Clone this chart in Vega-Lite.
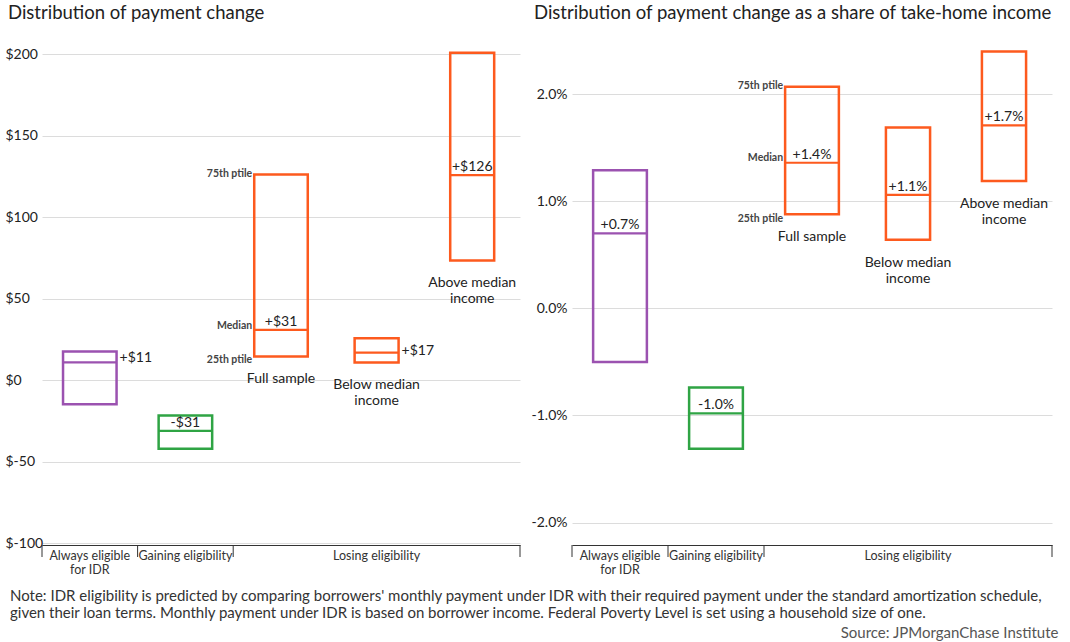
{
  "$schema": "https://vega.github.io/schema/vega-lite/v6.json",
  "padding": {"left": 5, "top": 3, "right": 5, "bottom": 2},
  "config": {
    "font": "Lato",
    "view": {"stroke": null},
    "axis": {"labelFont": "Lato", "titleFont": "Lato"},
    "text": {"font": "Lato"}
  },
  "datasets": {
    "pay": [
      {"cat": "Always eligible for IDR", "group": "Always", "p25": -14.7, "median": 11, "p75": 17.8, "label": "+$11", "boxLabel": null},
      {"cat": "Gaining eligibility", "group": "Gaining", "p25": -42, "median": -31, "p75": -21.5, "label": "-$31", "boxLabel": null},
      {"cat": "Full sample", "group": "Losing", "p25": 14.7, "median": 31, "p75": 126.4, "label": "+$31", "boxLabel": ["Full sample"]},
      {"cat": "Below median income", "group": "Losing", "p25": 11, "median": 17, "p75": 25.8, "label": "+$17", "boxLabel": ["Below median", "income"]},
      {"cat": "Above median income", "group": "Losing", "p25": 73.6, "median": 126, "p75": 201, "label": "+$126", "boxLabel": ["Above median", "income"]}
    ],
    "share": [
      {"cat": "Always eligible for IDR", "group": "Always", "p25": -0.5, "median": 0.7, "p75": 1.29, "label": "+0.7%", "boxLabel": null},
      {"cat": "Gaining eligibility", "group": "Gaining", "p25": -1.31, "median": -0.98, "p75": -0.74, "label": "-1.0%", "boxLabel": null},
      {"cat": "Full sample", "group": "Losing", "p25": 0.88, "median": 1.36, "p75": 2.07, "label": "+1.4%", "boxLabel": ["Full sample"]},
      {"cat": "Below median income", "group": "Losing", "p25": 0.64, "median": 1.06, "p75": 1.69, "label": "+1.1%", "boxLabel": ["Below median", "income"]},
      {"cat": "Above median income", "group": "Losing", "p25": 1.19, "median": 1.71, "p75": 2.4, "label": "+1.7%", "boxLabel": ["Above median", "income"]}
    ]
  },
  "title": {"text": "Source: JPMorganChase Institute", "orient": "bottom", "anchor": "end", "fontSize": 15, "fontWeight": "normal", "color": "#555", "offset": 5, "frame": "bounds", "dx": 6},
  "vconcat": [
    {
      "title": {
        "text": ["Note: IDR eligibility is predicted by comparing borrowers' monthly payment under IDR with their required payment under the standard amortization schedule,", "given their loan terms. Monthly payment under IDR is based on borrower income. Federal Poverty Level is set using a household size of one."],
        "orient": "bottom", "anchor": "start", "frame": "bounds", "fontSize": 15, "fontWeight": "normal", "color": "#333", "offset": 13, "lineHeight": 17.5, "dx": 5
      },
      "spacing": 10,
      "hconcat": [
        {
          "width": 478,
          "height": 515,
          "title": {"text": "Distribution of payment change", "anchor": "start", "frame": "bounds", "fontSize": 18.5, "fontWeight": "normal", "color": "#222", "offset": 8, "dx": 3},
          "data": {"name": "pay"},
          "encoding": {
            "x": {
              "field": "cat", "type": "nominal", "sort": null, "title": null,
              "scale": {"domain": ["Always eligible for IDR", "Gaining eligibility", "Full sample", "Below median income", "Above median income"], "paddingInner": 0, "paddingOuter": 0},
              "axis": {
                "labelExpr": "datum.value == 'Always eligible for IDR' ? ['Always eligible', 'for IDR'] : datum.value == 'Gaining eligibility' ? 'Gaining eligibility' : datum.value == 'Below median income' ? 'Losing eligibility' : ''",
                "labelAngle": 0, "domain": true, "domainColor": "#333", "ticks": false, "labelPadding": 4,
                "labelFontSize": 12.5, "labelColor": "#333", "labelBaseline": "top", "labelLineHeight": 14, "grid": false
              }
            }
          },
          "layer": [
            {
              "transform": [{"filter": {"field": "cat", "oneOf": ["Always eligible for IDR", "Gaining eligibility", "Full sample"]}}],
              "mark": {"type": "bar", "filled": false, "strokeWidth": 2.5, "width": {"band": 0.56}},
              "encoding": {
                "y": {"field": "p75", "type": "quantitative", "title": null,
                  "scale": {"domain": [-101, 215], "nice": false, "zero": false},
                  "axis": {"values": [-100, -50, 0, 50, 100, 150, 200], "labelExpr": "'$' + datum.value", "labelAlign": "left", "labelPadding": 37, "grid": true, "gridColor": "#dcdcdc", "domain": false, "ticks": false, "labelFontSize": 14, "labelColor": "#222"}},
                "y2": {"field": "p25"},
                "color": {"field": "group", "type": "nominal", "scale": {"domain": ["Always", "Gaining", "Losing"], "range": ["#9b52b0", "#2fa444", "#fd5a1e"]}, "legend": null}
              }
            },
            {
              "transform": [{"filter": {"field": "cat", "oneOf": ["Below median income", "Above median income"]}}],
              "mark": {"type": "bar", "filled": false, "strokeWidth": 2.5, "width": {"band": 0.46}},
              "encoding": {
                "y": {"field": "p75", "type": "quantitative", "title": null},
                "y2": {"field": "p25"},
                "color": {"field": "group", "type": "nominal", "legend": null}
              }
            },
            {
              "transform": [{"filter": {"field": "cat", "oneOf": ["Always eligible for IDR", "Gaining eligibility", "Full sample"]}}],
              "mark": {"type": "bar", "filled": false, "strokeWidth": 2.2, "width": {"band": 0.56}},
              "encoding": {
                "y": {"field": "median", "type": "quantitative", "title": null},
                "y2": {"field": "median"},
                "color": {"field": "group", "type": "nominal", "legend": null}
              }
            },
            {
              "transform": [{"filter": {"field": "cat", "oneOf": ["Below median income", "Above median income"]}}],
              "mark": {"type": "bar", "filled": false, "strokeWidth": 2.2, "width": {"band": 0.46}},
              "encoding": {
                "y": {"field": "median", "type": "quantitative", "title": null},
                "y2": {"field": "median"},
                "color": {"field": "group", "type": "nominal", "legend": null}
              }
            },
            {
              "transform": [{"filter": {"field": "cat", "oneOf": ["Gaining eligibility", "Full sample", "Above median income"]}}],
              "mark": {"type": "text", "baseline": "bottom", "dy": -1, "fontSize": 14, "color": "#222"},
              "encoding": {
                "y": {"field": "median", "type": "quantitative", "title": null},
                "text": {"field": "label"}
              }
            },
            {
              "transform": [{"filter": "datum.cat == 'Always eligible for IDR'"}],
              "mark": {"type": "text", "align": "left", "baseline": "middle", "dx": 3, "dy": -4, "fontSize": 14, "color": "#222"},
              "encoding": {
                "x": {"field": "cat", "type": "nominal", "bandPosition": 0.78},
                "y": {"field": "median", "type": "quantitative", "title": null},
                "text": {"field": "label"}
              }
            },
            {
              "transform": [{"filter": "datum.cat == 'Below median income'"}],
              "mark": {"type": "text", "align": "left", "baseline": "middle", "dx": 3, "dy": -2, "fontSize": 14, "color": "#222"},
              "encoding": {
                "x": {"field": "cat", "type": "nominal", "bandPosition": 0.73},
                "y": {"field": "median", "type": "quantitative", "title": null},
                "text": {"field": "label"}
              }
            },
            {
              "transform": [{"filter": "isValid(datum.boxLabel)"}],
              "mark": {"type": "text", "baseline": "top", "dy": 16, "fontSize": 14, "lineHeight": 16, "color": "#222"},
              "encoding": {
                "y": {"field": "p25", "type": "quantitative", "title": null},
                "text": {"field": "boxLabel"}
              }
            },
            {
              "transform": [{"filter": "datum.cat == 'Full sample'"}],
              "mark": {"type": "text", "text": "75th ptile", "align": "right", "baseline": "middle", "dx": -2, "fontSize": 10.5, "fontWeight": "bold", "color": "#444"},
              "encoding": {
                "x": {"field": "cat", "type": "nominal", "bandPosition": 0.22},
                "y": {"field": "p75", "type": "quantitative", "title": null}
              }
            },
            {
              "transform": [{"filter": "datum.cat == 'Full sample'"}],
              "mark": {"type": "text", "text": "Median", "align": "right", "baseline": "middle", "dx": -2, "dy": -4, "fontSize": 10.5, "fontWeight": "bold", "color": "#444"},
              "encoding": {
                "x": {"field": "cat", "type": "nominal", "bandPosition": 0.22},
                "y": {"field": "median", "type": "quantitative", "title": null}
              }
            },
            {
              "transform": [{"filter": "datum.cat == 'Full sample'"}],
              "mark": {"type": "text", "text": "25th ptile", "align": "right", "baseline": "middle", "dx": -2, "dy": 4, "fontSize": 10.5, "fontWeight": "bold", "color": "#444"},
              "encoding": {
                "x": {"field": "cat", "type": "nominal", "bandPosition": 0.22},
                "y": {"field": "p25", "type": "quantitative", "title": null}
              }
            },
            {
              "transform": [{"filter": {"field": "cat", "oneOf": ["Always eligible for IDR", "Gaining eligibility", "Full sample"]}}],
              "mark": {"type": "rule", "color": "#333", "strokeWidth": 1, "y2Offset": 12},
              "encoding": {
                "x": {"field": "cat", "type": "nominal", "bandPosition": 0},
                "y": {"datum": -101},
                "y2": {"datum": -101}
              }
            },
            {
              "transform": [{"filter": "datum.cat == 'Above median income'"}],
              "mark": {"type": "rule", "color": "#333", "strokeWidth": 1, "y2Offset": 12},
              "encoding": {
                "x": {"field": "cat", "type": "nominal", "bandPosition": 1},
                "y": {"datum": -101},
                "y2": {"datum": -101}
              }
            }
          ]
        },
        {
          "width": 480,
          "height": 515,
          "title": {"text": "Distribution of payment change as a share of take-home income", "anchor": "start", "frame": "bounds", "fontSize": 18.5, "fontWeight": "normal", "color": "#222", "offset": 8, "dx": 3},
          "data": {"name": "share"},
          "encoding": {
            "x": {
              "field": "cat", "type": "nominal", "sort": null, "title": null,
              "scale": {"domain": ["Always eligible for IDR", "Gaining eligibility", "Full sample", "Below median income", "Above median income"], "paddingInner": 0, "paddingOuter": 0},
              "axis": {
                "labelExpr": "datum.value == 'Always eligible for IDR' ? ['Always eligible', 'for IDR'] : datum.value == 'Gaining eligibility' ? 'Gaining eligibility' : datum.value == 'Below median income' ? 'Losing eligibility' : ''",
                "labelAngle": 0, "domain": true, "domainColor": "#333", "ticks": false, "labelPadding": 4,
                "labelFontSize": 12.5, "labelColor": "#333", "labelBaseline": "top", "labelLineHeight": 14, "grid": false
              }
            }
          },
          "layer": [
            {
              "transform": [{"filter": {"field": "cat", "oneOf": ["Always eligible for IDR", "Gaining eligibility", "Full sample"]}}],
              "mark": {"type": "bar", "filled": false, "strokeWidth": 2.5, "width": {"band": 0.56}},
              "encoding": {
                "y": {"field": "p75", "type": "quantitative", "title": null,
                  "scale": {"domain": [-2.21, 2.6], "nice": false, "zero": false},
                  "axis": {"values": [-2, -1, 0, 1, 2], "labelExpr": "replace(format(datum.value, '.1f'), '\u2212', '-') + '%'", "labelAlign": "right", "labelPadding": 5, "grid": true, "gridColor": "#dcdcdc", "domain": false, "ticks": false, "labelFontSize": 14, "labelColor": "#222"}},
                "y2": {"field": "p25"},
                "color": {"field": "group", "type": "nominal", "scale": {"domain": ["Always", "Gaining", "Losing"], "range": ["#9b52b0", "#2fa444", "#fd5a1e"]}, "legend": null}
              }
            },
            {
              "transform": [{"filter": {"field": "cat", "oneOf": ["Below median income", "Above median income"]}}],
              "mark": {"type": "bar", "filled": false, "strokeWidth": 2.5, "width": {"band": 0.46}},
              "encoding": {
                "y": {"field": "p75", "type": "quantitative", "title": null},
                "y2": {"field": "p25"},
                "color": {"field": "group", "type": "nominal", "legend": null}
              }
            },
            {
              "transform": [{"filter": {"field": "cat", "oneOf": ["Always eligible for IDR", "Gaining eligibility", "Full sample"]}}],
              "mark": {"type": "bar", "filled": false, "strokeWidth": 2.2, "width": {"band": 0.56}},
              "encoding": {
                "y": {"field": "median", "type": "quantitative", "title": null},
                "y2": {"field": "median"},
                "color": {"field": "group", "type": "nominal", "legend": null}
              }
            },
            {
              "transform": [{"filter": {"field": "cat", "oneOf": ["Below median income", "Above median income"]}}],
              "mark": {"type": "bar", "filled": false, "strokeWidth": 2.2, "width": {"band": 0.46}},
              "encoding": {
                "y": {"field": "median", "type": "quantitative", "title": null},
                "y2": {"field": "median"},
                "color": {"field": "group", "type": "nominal", "legend": null}
              }
            },
            {
              "mark": {"type": "text", "baseline": "bottom", "dy": -1, "fontSize": 14, "color": "#222"},
              "encoding": {
                "y": {"field": "median", "type": "quantitative", "title": null},
                "text": {"field": "label"}
              }
            },
            {
              "transform": [{"filter": "isValid(datum.boxLabel)"}],
              "mark": {"type": "text", "baseline": "top", "dy": 16, "fontSize": 14, "lineHeight": 16, "color": "#222"},
              "encoding": {
                "y": {"field": "p25", "type": "quantitative", "title": null},
                "text": {"field": "boxLabel"}
              }
            },
            {
              "transform": [{"filter": "datum.cat == 'Full sample'"}],
              "mark": {"type": "text", "text": "75th ptile", "align": "right", "baseline": "middle", "dx": -2, "dy": -1, "fontSize": 10.5, "fontWeight": "bold", "color": "#444"},
              "encoding": {
                "x": {"field": "cat", "type": "nominal", "bandPosition": 0.22},
                "y": {"field": "p75", "type": "quantitative", "title": null}
              }
            },
            {
              "transform": [{"filter": "datum.cat == 'Full sample'"}],
              "mark": {"type": "text", "text": "Median", "align": "right", "baseline": "middle", "dx": -2, "dy": -5, "fontSize": 10.5, "fontWeight": "bold", "color": "#444"},
              "encoding": {
                "x": {"field": "cat", "type": "nominal", "bandPosition": 0.22},
                "y": {"field": "median", "type": "quantitative", "title": null}
              }
            },
            {
              "transform": [{"filter": "datum.cat == 'Full sample'"}],
              "mark": {"type": "text", "text": "25th ptile", "align": "right", "baseline": "middle", "dx": -2, "dy": 5, "fontSize": 10.5, "fontWeight": "bold", "color": "#444"},
              "encoding": {
                "x": {"field": "cat", "type": "nominal", "bandPosition": 0.22},
                "y": {"field": "p25", "type": "quantitative", "title": null}
              }
            },
            {
              "transform": [{"filter": {"field": "cat", "oneOf": ["Always eligible for IDR", "Gaining eligibility", "Full sample"]}}],
              "mark": {"type": "rule", "color": "#333", "strokeWidth": 1, "y2Offset": 12},
              "encoding": {
                "x": {"field": "cat", "type": "nominal", "bandPosition": 0},
                "y": {"datum": -2.21},
                "y2": {"datum": -2.21}
              }
            },
            {
              "transform": [{"filter": "datum.cat == 'Above median income'"}],
              "mark": {"type": "rule", "color": "#333", "strokeWidth": 1, "y2Offset": 12},
              "encoding": {
                "x": {"field": "cat", "type": "nominal", "bandPosition": 1},
                "y": {"datum": -2.21},
                "y2": {"datum": -2.21}
              }
            }
          ]
        }
      ]
    }
  ]
}
